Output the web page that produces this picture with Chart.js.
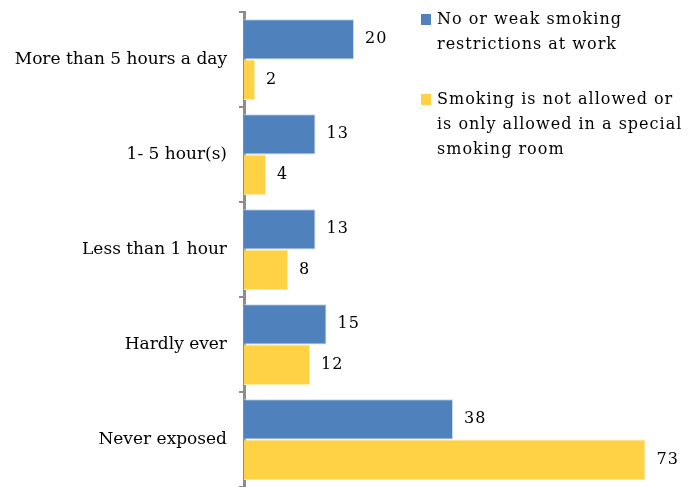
<!DOCTYPE html>
<html>
<head>
<meta charset="utf-8">
<script src="https://cdn.jsdelivr.net/npm/chart.js@4/dist/chart.umd.min.js"></script>
<style>
  html, body { margin: 0; padding: 0; background: #fff; }
  #wrap { width: 690px; height: 487px; position: relative; }
</style>
</head>
<body>
<div id="wrap"><canvas id="chart"></canvas></div>
<script>
const categories = ['More than 5 hours a day', '1- 5 hour(s)', 'Less than 1 hour', 'Hardly ever', 'Never exposed'];
const weakRestrictions = [20, 13, 13, 15, 38];
const notAllowed = [2, 4, 8, 12, 73];
const seriesNames = [
    ['No or weak smoking', 'restrictions at work'],
    ['Smoking is not allowed or', 'is only allowed in a special', 'smoking room'],
];

const FONT = '"DejaVu Serif", "Liberation Serif", serif';
const BLUE = '#4F81BD';
const YELLOW = '#FFD145';

// value labels next to each bar
const valueLabels = {
    id: 'valueLabels',
    afterDatasetsDraw(chart) {
        const ctx = chart.ctx;
        ctx.save();
        ctx.font = '16px ' + FONT;
        ctx.letterSpacing = '1px';
        ctx.fillStyle = '#000';
        ctx.textAlign = 'left';
        ctx.textBaseline = 'middle';
        chart.data.datasets.forEach((ds, i) => {
            chart.getDatasetMeta(i).data.forEach((bar, j) => {
                ctx.fillText(String(ds.data[j]), bar.x + 11, bar.y);
            });
        });
        ctx.restore();
    },
};

// legend block in the upper right
const sideLegend = {
    id: 'sideLegend',
    afterDraw(chart) {
        const ctx = chart.ctx;
        ctx.save();
        ctx.font = '16px ' + FONT;
        ctx.letterSpacing = '1px';
        ctx.textBaseline = 'middle';
        ctx.textAlign = 'left';
        const colors = [BLUE, YELLOW];
        const tops = [20, 100];
        seriesNames.forEach((lines, i) => {
            ctx.fillStyle = colors[i];
            ctx.fillRect(421, tops[i] - 6, 10, 11);
            ctx.fillStyle = '#000';
            lines.forEach((line, k) => {
                ctx.fillText(line, 437, tops[i] + k * 25);
            });
        });
        ctx.restore();
    },
};

new Chart(document.getElementById('chart'), {
    type: 'bar',
    data: {
        labels: categories,
        datasets: [
            {
                label: seriesNames[0].join(' '),
                data: weakRestrictions,
                backgroundColor: BLUE,
                borderColor: '#C9D7EA',
                borderWidth: 1,
                categoryPercentage: 0.85,
                barPercentage: 1,
            },
            {
                label: seriesNames[1].join(' '),
                data: notAllowed,
                backgroundColor: YELLOW,
                borderColor: '#FFE9A6',
                borderWidth: 1,
                categoryPercentage: 0.85,
                barPercentage: 1,
            },
        ],
    },
    options: {
        indexAxis: 'y',
        responsive: true,
        maintainAspectRatio: false,
        animation: false,
        layout: { padding: { top: 12, right: 6, bottom: 0, left: 0 } },
        plugins: {
            legend: { display: false },
            tooltip: { enabled: false },
        },
        scales: {
            x: {
                display: false,
                min: 0,
                max: 80,
            },
            y: {
                afterFit(scale) {
                    scale.width = 244;
                    scale.paddingTop = 0;
                    scale.paddingBottom = 0;
                },
                grid: {
                    offset: true,
                    drawOnChartArea: false,
                    tickLength: 5,
                    color: '#8C8C8C',
                    lineWidth: 2,
                },
                border: { display: true, color: '#8C8C8C', width: 3 },
                ticks: {
                    color: '#000',
                    padding: 12,
                    font: { family: FONT, size: 17 },
                },
            },
        },
    },
    plugins: [valueLabels, sideLegend],
});
</script>
</body>
</html>
